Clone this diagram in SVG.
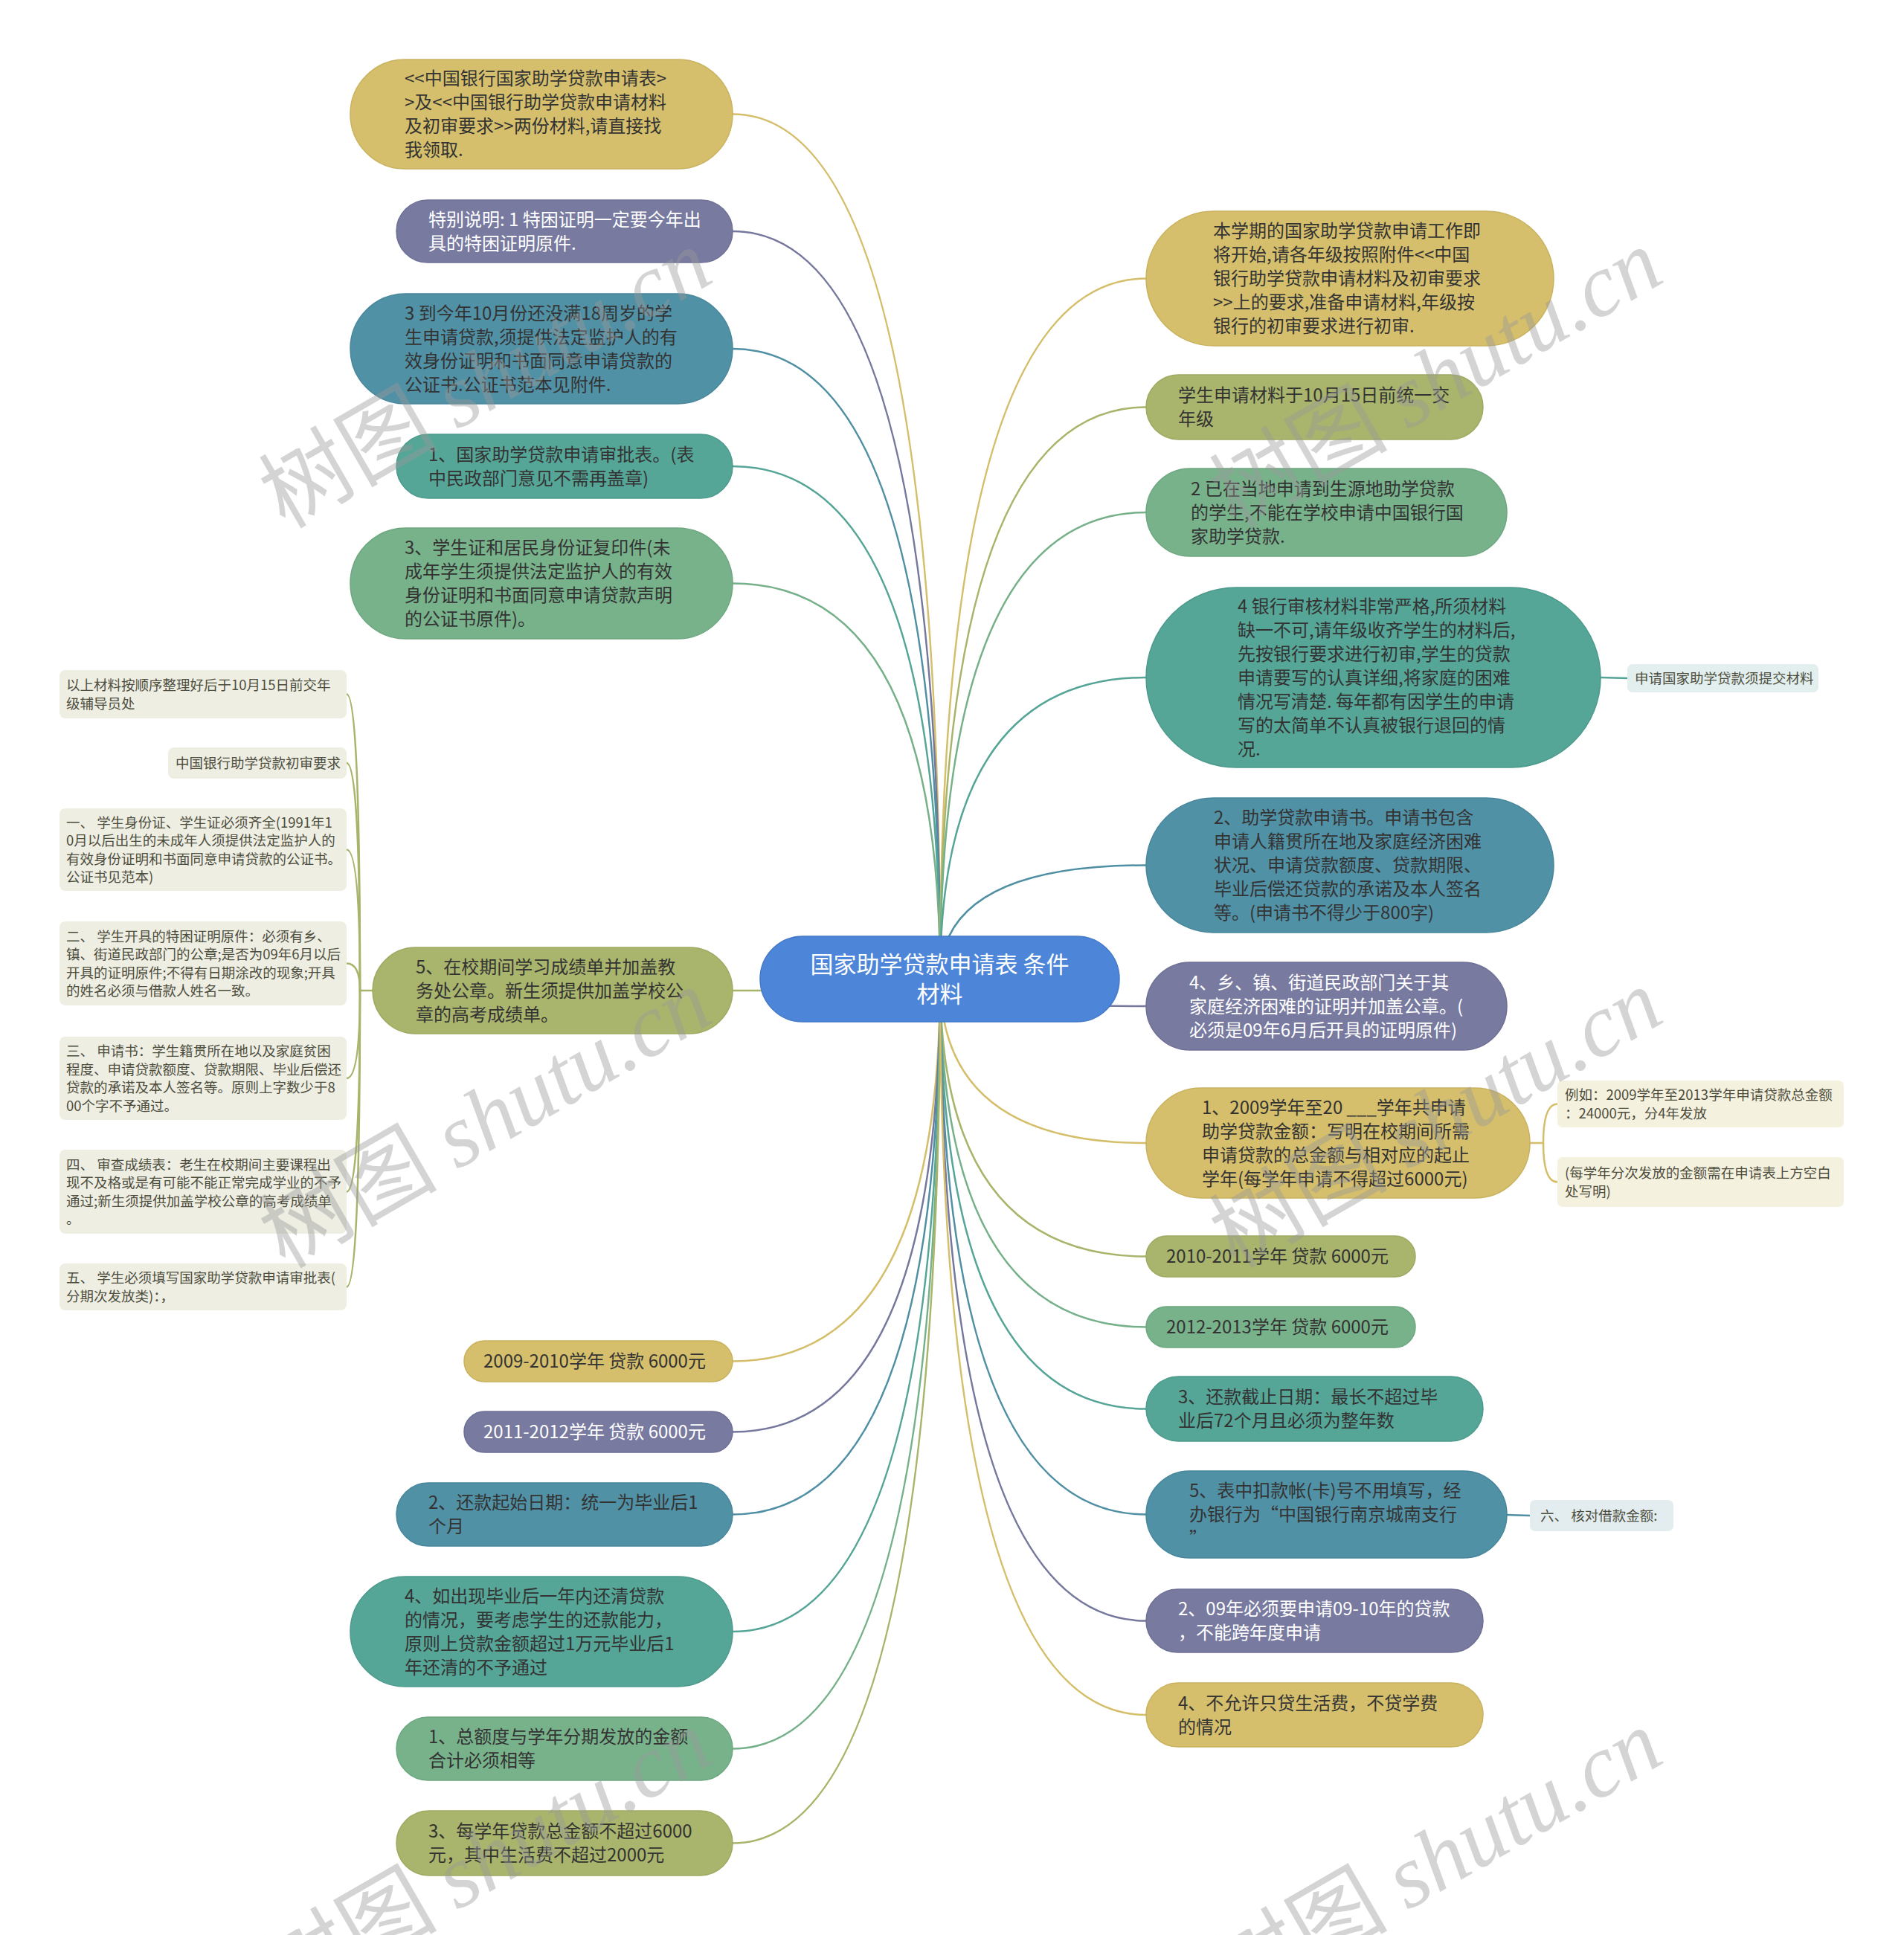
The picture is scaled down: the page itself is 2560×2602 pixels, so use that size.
<svg xmlns="http://www.w3.org/2000/svg" width="2560" height="2602" viewBox="0 0 2560 2602">
<style>
.t{font-family:"Noto Sans CJK SC","Noto Sans",sans-serif;font-size:24px;fill:#333}
.wt{fill:#fff}
.lf{font-family:"Noto Sans CJK SC","Noto Sans",sans-serif;font-size:18.5px;fill:#4d4d3d}
.rt{font-family:"Noto Sans CJK SC","Noto Sans",sans-serif;font-size:31px;fill:#fff}
.c{fill:none;stroke-width:2.5}
.gold{fill:#d5bf6c;stroke:#c9b25e;stroke-width:1.5}
.purple{fill:#787aa0;stroke:#6d6f95;stroke-width:1.5}
.blue{fill:#5191a6;stroke:#47869b;stroke-width:1.5}
.teal{fill:#56a698;stroke:#4b9a8c;stroke-width:1.5}
.green{fill:#78b28b;stroke:#6ca77f;stroke-width:1.5}
.olive{fill:#a9b56c;stroke:#9ea961;stroke-width:1.5}
.cg{stroke:#d4be6a}.cp{stroke:#75779d}.cb{stroke:#4f8fa4}.ct{stroke:#55a597}.cn{stroke:#76b089}.co{stroke:#a8b46a}
.leafbox{fill:#eeeee3}
.wm{font-family:"Noto Sans CJK SC",sans-serif;font-size:120px;fill:#9a9a9a;opacity:0.42}
.wm tspan{font-family:"Liberation Serif",serif;font-style:italic}
</style>
<rect x="0" y="0" width="2560" height="2602" fill="#ffffff"/>
<g id="connectors">
<path class="c cg" d="M1264 1316 Q1264 153.5 985 153.5"/>
<path class="c cp" d="M1264 1316 Q1264 311 985 311"/>
<path class="c cb" d="M1264 1316 Q1264 469 985 469"/>
<path class="c ct" d="M1264 1316 Q1264 627 985 627"/>
<path class="c cn" d="M1264 1316 Q1264 784.5 985 784.5"/>
<path class="c co" d="M1264 1316 Q1264 1332 985 1332"/>
<path class="c cg" d="M1264 1316 Q1264 1830.5 985 1830.5"/>
<path class="c cp" d="M1264 1316 Q1264 1925.5 985 1925.5"/>
<path class="c cb" d="M1264 1316 Q1264 2036.5 985 2036.5"/>
<path class="c ct" d="M1264 1316 Q1264 2194 985 2194"/>
<path class="c cn" d="M1264 1316 Q1264 2351.5 985 2351.5"/>
<path class="c co" d="M1264 1316 Q1264 2478.5 985 2478.5"/>
<path class="c cg" d="M1264 1316 Q1264 374.5 1541 374.5"/>
<path class="c co" d="M1264 1316 Q1264 547.5 1541 547.5"/>
<path class="c cn" d="M1264 1316 Q1264 689 1541 689"/>
<path class="c ct" d="M1264 1316 Q1264 911 1541 911"/>
<path class="c cb" d="M1264 1316 Q1264 1163.5 1541 1163.5"/>
<path class="c cp" d="M1264 1316 Q1264 1353 1541 1353"/>
<path class="c cg" d="M1264 1316 Q1264 1537 1541 1537"/>
<path class="c co" d="M1264 1316 Q1264 1689.5 1541 1689.5"/>
<path class="c cn" d="M1264 1316 Q1264 1784.5 1541 1784.5"/>
<path class="c ct" d="M1264 1316 Q1264 1894.5 1541 1894.5"/>
<path class="c cb" d="M1264 1316 Q1264 2036.5 1541 2036.5"/>
<path class="c cp" d="M1264 1316 Q1264 2179.5 1541 2179.5"/>
<path class="c cg" d="M1264 1316 Q1264 2306 1541 2306"/>
<path class="c co" d="M501 1332 L484 1332 Q484 933.5 466 933.5"/>
<path class="c co" d="M484 1332 Q484 1026 466 1026"/>
<path class="c co" d="M484 1332 Q484 1142.5 466 1142.5"/>
<path class="c co" d="M484 1332 Q484 1295.5 466 1295.5"/>
<path class="c co" d="M484 1332 Q484 1450 466 1450"/>
<path class="c co" d="M484 1332 Q484 1602.5 466 1602.5"/>
<path class="c co" d="M484 1332 Q484 1730.5 466 1730.5"/>
<path class="c ct" d="M2152 911 L2188 912"/>
<path class="c cg" d="M2057 1537 L2075 1537 Q2075 1484.5 2094 1484.5"/>
<path class="c cg" d="M2075 1537 Q2075 1589.5 2094 1589.5"/>
<path class="c cb" d="M2026 2037 L2057 2038"/>
</g>
<g id="root">
<rect x="1022" y="1259" width="483" height="115" rx="57.5" fill="#4d86d8" stroke="#4479c8" stroke-width="1.5"/>
<text class="rt" text-anchor="middle"><tspan x="1263.5" y="1308">国家助学贷款申请表 条件</tspan><tspan x="1263.5" y="1348">材料</tspan></text>
</g>
<g id="n-a1"><rect class="gold" x="471" y="80" width="514" height="147" rx="73.5"/>
<text class="t"><tspan x="544" y="114">&lt;&lt;中国银行国家助学贷款申请表&gt;</tspan><tspan x="544" y="146">&gt;及&lt;&lt;中国银行助学贷款申请材料</tspan><tspan x="544" y="178">及初审要求&gt;&gt;两份材料,请直接找</tspan><tspan x="544" y="210">我领取.</tspan></text></g>
<g id="n-a2"><rect class="purple" x="533" y="269" width="452" height="84" rx="42"/>
<text class="t wt"><tspan x="576" y="303.5">特别说明: 1 特困证明一定要今年出</tspan><tspan x="576" y="335.5">具的特困证明原件.</tspan></text></g>
<g id="n-a3"><rect class="blue" x="471" y="395" width="514" height="148" rx="74"/>
<text class="t"><tspan x="544" y="429.5">3 到今年10月份还没满18周岁的学</tspan><tspan x="544" y="461.5">生申请贷款,须提供法定监护人的有</tspan><tspan x="544" y="493.5">效身份证明和书面同意申请贷款的</tspan><tspan x="544" y="525.5">公证书.公证书范本见附件.</tspan></text></g>
<g id="n-a4"><rect class="teal" x="533" y="584" width="452" height="86" rx="43"/>
<text class="t"><tspan x="576" y="619.5">1、国家助学贷款申请审批表。(表</tspan><tspan x="576" y="651.5">中民政部门意见不需再盖章)</tspan></text></g>
<g id="n-a5"><rect class="green" x="471" y="710" width="514" height="149" rx="74.5"/>
<text class="t"><tspan x="544" y="745">3、学生证和居民身份证复印件(未</tspan><tspan x="544" y="777">成年学生须提供法定监护人的有效</tspan><tspan x="544" y="809">身份证明和书面同意申请贷款声明</tspan><tspan x="544" y="841">的公证书原件)。</tspan></text></g>
<g id="n-a6"><rect class="olive" x="501" y="1274" width="484" height="116" rx="58"/>
<text class="t"><tspan x="559" y="1308.5">5、在校期间学习成绩单并加盖教</tspan><tspan x="559" y="1340.5">务处公章。新生须提供加盖学校公</tspan><tspan x="559" y="1372.5">章的高考成绩单。</tspan></text></g>
<g id="n-a7"><rect class="gold" x="624" y="1803" width="361" height="55" rx="27.5"/>
<text class="t" x="650" y="1839">2009-2010学年 贷款 6000元</text></g>
<g id="n-a8"><rect class="purple" x="624" y="1898" width="361" height="55" rx="27.5"/>
<text class="t wt" x="650" y="1934">2011-2012学年 贷款 6000元</text></g>
<g id="n-a9"><rect class="blue" x="533" y="1994" width="452" height="85" rx="42.5"/>
<text class="t"><tspan x="576" y="2029">2、还款起始日期：统一为毕业后1</tspan><tspan x="576" y="2061">个月</tspan></text></g>
<g id="n-a10"><rect class="teal" x="471" y="2120" width="514" height="148" rx="74"/>
<text class="t"><tspan x="544" y="2154.5">4、如出现毕业后一年内还清贷款</tspan><tspan x="544" y="2186.5">的情况，要考虑学生的还款能力，</tspan><tspan x="544" y="2218.5">原则上贷款金额超过1万元毕业后1</tspan><tspan x="544" y="2250.5">年还清的不予通过</tspan></text></g>
<g id="n-a11"><rect class="green" x="533" y="2309" width="452" height="85" rx="42.5"/>
<text class="t"><tspan x="576" y="2344">1、总额度与学年分期发放的金额</tspan><tspan x="576" y="2376">合计必须相等</tspan></text></g>
<g id="n-a12"><rect class="olive" x="533" y="2435" width="452" height="87" rx="43.5"/>
<text class="t"><tspan x="576" y="2471">3、每学年贷款总金额不超过6000</tspan><tspan x="576" y="2503">元，其中生活费不超过2000元</tspan></text></g>
<g id="n-b1"><rect class="gold" x="1541" y="284" width="548" height="181" rx="90.5"/>
<text class="t"><tspan x="1631" y="319">本学期的国家助学贷款申请工作即</tspan><tspan x="1631" y="351">将开始,请各年级按照附件&lt;&lt;中国</tspan><tspan x="1631" y="383">银行助学贷款申请材料及初审要求</tspan><tspan x="1631" y="415">&gt;&gt;上的要求,准备申请材料,年级按</tspan><tspan x="1631" y="447">银行的初审要求进行初审.</tspan></text></g>
<g id="n-b2"><rect class="olive" x="1541" y="504" width="453" height="87" rx="43.5"/>
<text class="t"><tspan x="1584" y="540">学生申请材料于10月15日前统一交</tspan><tspan x="1584" y="572">年级</tspan></text></g>
<g id="n-b3"><rect class="green" x="1541" y="630" width="485" height="118" rx="59"/>
<text class="t"><tspan x="1601" y="665.5">2 已在当地申请到生源地助学贷款</tspan><tspan x="1601" y="697.5">的学生,不能在学校申请中国银行国</tspan><tspan x="1601" y="729.5">家助学贷款.</tspan></text></g>
<g id="n-b4"><rect class="teal" x="1541" y="790" width="611" height="242" rx="121"/>
<text class="t"><tspan x="1664" y="823.5">4 银行审核材料非常严格,所须材料</tspan><tspan x="1664" y="855.5">缺一不可,请年级收齐学生的材料后,</tspan><tspan x="1664" y="887.5">先按银行要求进行初审,学生的贷款</tspan><tspan x="1664" y="919.5">申请要写的认真详细,将家庭的困难</tspan><tspan x="1664" y="951.5">情况写清楚. 每年都有因学生的申请</tspan><tspan x="1664" y="983.5">写的太简单不认真被银行退回的情</tspan><tspan x="1664" y="1015.5">况.</tspan></text></g>
<g id="n-b4a"><rect x="2188" y="893" width="257" height="38" rx="7" fill="#e2efee"/>
<text class="lf" x="2198" y="918.7">申请国家助学贷款须提交材料</text></g>
<g id="n-b5"><rect class="blue" x="1541" y="1073" width="548" height="181" rx="90.5"/>
<text class="t"><tspan x="1632" y="1108">2、助学贷款申请书。申请书包含</tspan><tspan x="1632" y="1140">申请人籍贯所在地及家庭经济困难</tspan><tspan x="1632" y="1172">状况、申请贷款额度、贷款期限、</tspan><tspan x="1632" y="1204">毕业后偿还贷款的承诺及本人签名</tspan><tspan x="1632" y="1236">等。(申请书不得少于800字)</tspan></text></g>
<g id="n-b6"><rect class="purple" x="1541" y="1294" width="485" height="118" rx="59"/>
<text class="t wt"><tspan x="1599" y="1329.5">4、乡、镇、街道民政部门关于其</tspan><tspan x="1599" y="1361.5">家庭经济困难的证明并加盖公章。(</tspan><tspan x="1599" y="1393.5">必须是09年6月后开具的证明原件)</tspan></text></g>
<g id="n-b7"><rect class="gold" x="1541" y="1463" width="516" height="148" rx="74"/>
<text class="t"><tspan x="1616" y="1497.5">1、2009学年至20 ___学年共申请</tspan><tspan x="1616" y="1529.5">助学贷款金额：写明在校期间所需</tspan><tspan x="1616" y="1561.5">申请贷款的总金额与相对应的起止</tspan><tspan x="1616" y="1593.5">学年(每学年申请不得超过6000元)</tspan></text></g>
<g id="n-b7a"><rect x="2094" y="1453" width="385" height="63" rx="7" fill="#f5f1df"/>
<text class="lf"><tspan x="2104" y="1479">例如：2009学年至2013学年申请贷款总金额</tspan><tspan x="2104" y="1503.5">：24000元，分4年发放</tspan></text></g>
<g id="n-b7b"><rect x="2094" y="1556" width="385" height="67" rx="7" fill="#f5f1df"/>
<text class="lf"><tspan x="2104" y="1584">(每学年分次发放的金额需在申请表上方空白</tspan><tspan x="2104" y="1608.5">处写明)</tspan></text></g>
<g id="n-b8"><rect class="olive" x="1541" y="1662" width="362" height="55" rx="27.5"/>
<text class="t" x="1568" y="1698">2010-2011学年 贷款 6000元</text></g>
<g id="n-b9"><rect class="green" x="1541" y="1757" width="362" height="55" rx="27.5"/>
<text class="t" x="1568" y="1793">2012-2013学年 贷款 6000元</text></g>
<g id="n-b10"><rect class="teal" x="1541" y="1851" width="453" height="87" rx="43.5"/>
<text class="t"><tspan x="1584" y="1887">3、还款截止日期：最长不超过毕</tspan><tspan x="1584" y="1919">业后72个月且必须为整年数</tspan></text></g>
<g id="n-b11"><rect class="blue" x="1541" y="1978" width="485" height="117" rx="58.5"/>
<text class="t"><tspan x="1599" y="2013">5、表中扣款帐(卡)号不用填写，经</tspan><tspan x="1599" y="2045">办银行为“中国银行南京城南支行</tspan><tspan x="1599" y="2077">”</tspan></text></g>
<g id="n-b11a"><rect x="2057" y="2017" width="193" height="42" rx="7" fill="#e3edf0"/>
<text class="lf" x="2071" y="2044.7">六、 核对借款金额:</text></g>
<g id="n-b12"><rect class="purple" x="1541" y="2137" width="453" height="85" rx="42.5"/>
<text class="t wt"><tspan x="1584" y="2172">2、09年必须要申请09-10年的贷款</tspan><tspan x="1584" y="2204">，不能跨年度申请</tspan></text></g>
<g id="n-b13"><rect class="gold" x="1541" y="2263" width="453" height="86" rx="43"/>
<text class="t"><tspan x="1584" y="2298.5">4、不允许只贷生活费，不贷学费</tspan><tspan x="1584" y="2330.5">的情况</tspan></text></g>
<g id="n-c1"><rect class="leafbox" x="80" y="901" width="386" height="65" rx="8"/>
<text class="lf"><tspan x="89" y="928">以上材料按顺序整理好后于10月15日前交年</tspan><tspan x="89" y="952.5">级辅导员处</tspan></text></g>
<g id="n-c2"><rect class="leafbox" x="226" y="1005" width="240" height="42" rx="8"/>
<text class="lf" x="236" y="1032.7">中国银行助学贷款初审要求</text></g>
<g id="n-c3"><rect class="leafbox" x="80" y="1087" width="386" height="111" rx="8"/>
<text class="lf"><tspan x="89" y="1112.5">一、 学生身份证、学生证必须齐全(1991年1</tspan><tspan x="89" y="1137">0月以后出生的未成年人须提供法定监护人的</tspan><tspan x="89" y="1161.5">有效身份证明和书面同意申请贷款的公证书。</tspan><tspan x="89" y="1186">公证书见范本)</tspan></text></g>
<g id="n-c4"><rect class="leafbox" x="80" y="1239" width="386" height="113" rx="8"/>
<text class="lf"><tspan x="89" y="1265.5">二、 学生开具的特困证明原件：必须有乡、</tspan><tspan x="89" y="1290">镇、街道民政部门的公章;是否为09年6月以后</tspan><tspan x="89" y="1314.5">开具的证明原件;不得有日期涂改的现象;开具</tspan><tspan x="89" y="1339">的姓名必须与借款人姓名一致。</tspan></text></g>
<g id="n-c5"><rect class="leafbox" x="80" y="1394" width="386" height="112" rx="8"/>
<text class="lf"><tspan x="89" y="1420">三、 申请书：学生籍贯所在地以及家庭贫困</tspan><tspan x="89" y="1444.5">程度、申请贷款额度、贷款期限、毕业后偿还</tspan><tspan x="89" y="1469">贷款的承诺及本人签名等。原则上字数少于8</tspan><tspan x="89" y="1493.5">00个字不予通过。</tspan></text></g>
<g id="n-c6"><rect class="leafbox" x="80" y="1546" width="386" height="113" rx="8"/>
<text class="lf"><tspan x="89" y="1572.5">四、 审查成绩表：老生在校期间主要课程出</tspan><tspan x="89" y="1597">现不及格或是有可能不能正常完成学业的不予</tspan><tspan x="89" y="1621.5">通过;新生须提供加盖学校公章的高考成绩单</tspan><tspan x="89" y="1646">。</tspan></text></g>
<g id="n-c7"><rect class="leafbox" x="80" y="1699" width="386" height="63" rx="8"/>
<text class="lf"><tspan x="89" y="1725">五、 学生必须填写国家助学贷款申请审批表(</tspan><tspan x="89" y="1749.5">分期次发放类)：，</tspan></text></g>
<g id="watermark">
<text class="wm" transform="translate(383 712) rotate(-30)">树图 <tspan>shutu.cn</tspan></text>
<text class="wm" transform="translate(1661 712) rotate(-30)">树图 <tspan>shutu.cn</tspan></text>
<text class="wm" transform="translate(383 1707) rotate(-30)">树图 <tspan>shutu.cn</tspan></text>
<text class="wm" transform="translate(1661 1707) rotate(-30)">树图 <tspan>shutu.cn</tspan></text>
<text class="wm" transform="translate(383 2703) rotate(-30)">树图 <tspan>shutu.cn</tspan></text>
<text class="wm" transform="translate(1661 2703) rotate(-30)">树图 <tspan>shutu.cn</tspan></text>
</g>
</svg>
